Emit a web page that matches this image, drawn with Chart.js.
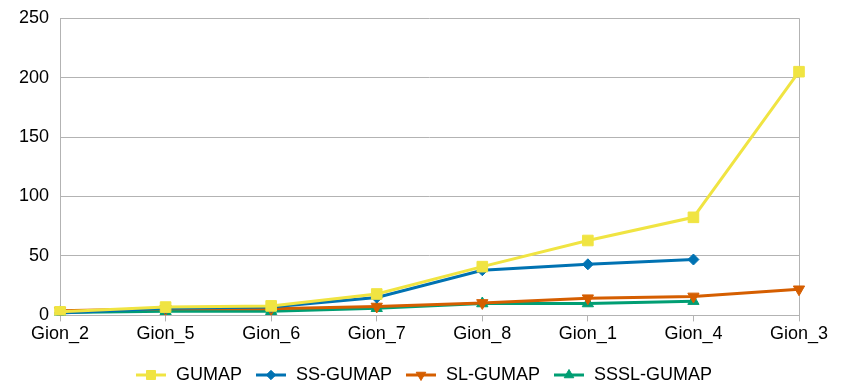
<!DOCTYPE html>
<html>
<head>
<meta charset="utf-8">
<script src="https://cdn.jsdelivr.net/npm/chart.js@4/dist/chart.umd.min.js"></script>
<style>
  html, body { margin: 0; padding: 0; background: #fff; }
  #wrap { width: 847px; height: 388px; }
</style>
</head>
<body>
<div id="wrap"><canvas id="myChart"></canvas></div>
<script>
const categories = ["Gion_2", "Gion_5", "Gion_6", "Gion_7", "Gion_8", "Gion_1", "Gion_4", "Gion_3"];
const gumap = [3, 7, 8, 18, 41, 63, 82.5, 205];
const ssGumap = [2, 6, 7, 15, 38, 43, 47, null];
const slGumap = [4, 5.5, 5.5, 7.5, 10.5, 14.5, 16, 22];
const ssslGumap = [2.5, 3.5, 3.5, 6, 10, 10, 12, null];
const yTicks = [0, 50, 100, 150, 200, 250];

const GRID = "#b3b3b3";
const FONT = "'Liberation Sans', Arial, sans-serif";

// legend icon: line with the marker on top
const legendIcon = (color, style, rot, r) => {
  const c = document.createElement("canvas");
  c.width = 30;
  c.height = 14;
  const g = c.getContext("2d");
  g.strokeStyle = color;
  g.lineWidth = 3;
  g.beginPath();
  g.moveTo(0, 7);
  g.lineTo(30, 7);
  g.stroke();
  g.fillStyle = color;
  g.strokeStyle = color;
  g.lineWidth = 1;
  Chart.helpers.drawPoint(g, { pointStyle: style, radius: r, rotation: rot, borderWidth: 1 }, 15, 7);
  return c;
};

const mk = (label, data, color, style, rot, r) => ({
  label,
  data,
  borderColor: color,
  backgroundColor: color,
  borderWidth: 3,
  pointStyle: style,
  pointRotation: rot,
  pointRadius: r,
  pointBorderWidth: 1,
  tension: 0,
  fill: false,
  spanGaps: false,
});

const datasets = [
  mk("GUMAP", gumap, "#f0e442", "rect", 0, 7.5),
  mk("SS-GUMAP", ssGumap, "#0072b2", "rectRot", 0, 5.5),
  mk("SL-GUMAP", slGumap, "#d55e00", "triangle", 180, 6.5),
  mk("SSSL-GUMAP", ssslGumap, "#009e73", "triangle", 0, 6.5),
];

// move the legend row so it sits centred on the page and a bit lower
const legendShift = {
  id: "legendShift",
  afterLayout(chart) {
    const l = chart.legend;
    l.top += 6;
    l.bottom += 6;
    l.left += 20;
    l.right += 20;
  },
};

const ctx = document.getElementById("myChart");
const config = {
  type: "line",
  data: { labels: categories, datasets },
  plugins: [legendShift],
  options: {
    responsive: true,
    maintainAspectRatio: false,
    animation: false,
    layout: { padding: { left: 8, right: 48, top: 0, bottom: 0 } },
    plugins: {
      tooltip: { enabled: false },
      legend: {
        position: "bottom",
        labels: {
          color: "#000",
          font: { family: FONT, size: 18 },
          usePointStyle: true,
          pointStyleWidth: 32,
          padding: 13,
          generateLabels: (chart) =>
            chart.data.datasets.map((d, i) => ({
              text: d.label,
              pointStyle: legendIcon(d.borderColor, d.pointStyle, d.pointRotation, d.pointRadius * 0.85),
              fillStyle: d.borderColor,
              strokeStyle: d.borderColor,
              lineWidth: 0,
              hidden: false,
              datasetIndex: i,
            })),
        },
      },
    },
    scales: {
      x: {
        offset: false,
        border: { color: GRID },
        grid: {
          color: (c) => (c.index === 0 || c.index === categories.length - 1 ? GRID : "transparent"),
          tickColor: GRID,
          tickLength: 6,
        },
        ticks: {
          color: "#000",
          font: { family: FONT, size: 18 },
          maxRotation: 0,
          autoSkip: false,
          padding: 2,
        },
      },
      y: {
        min: 0,
        max: 250,
        afterBuildTicks: (axis) => {
          axis.ticks = yTicks.map((v) => ({ value: v }));
        },
        border: { display: false },
        grid: { color: GRID, drawTicks: false },
        ticks: {
          color: "#000",
          font: { family: FONT, size: 18, lineHeight: 0.8 },
          padding: 11,
        },
      },
    },
  },
};
const myChart = new Chart(ctx, config);
</script>
</body>
</html>
